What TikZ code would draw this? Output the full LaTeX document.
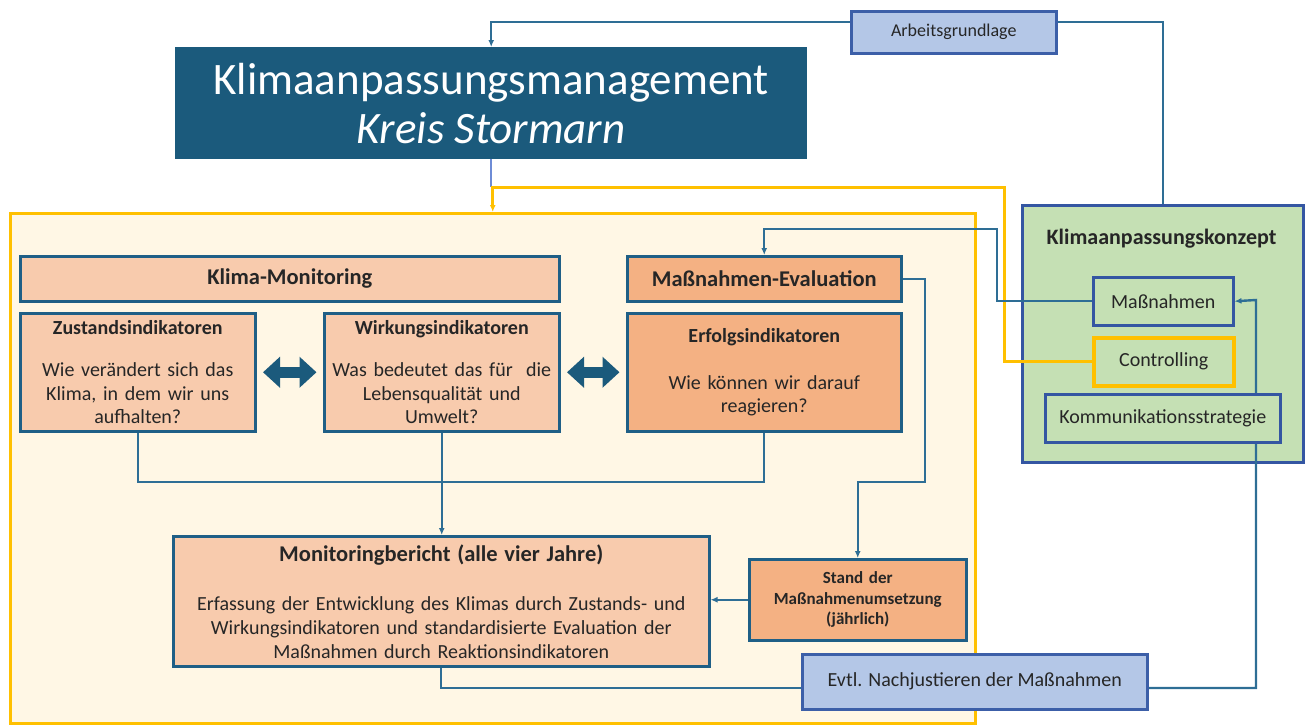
\documentclass[tikz,border=0pt]{standalone}
\usepackage{fontspec}
\setmainfont{Carlito}
\usetikzlibrary{arrows.meta,calc}
\definecolor{titleblue}{HTML}{1B5A7C}
\definecolor{orangeL}{HTML}{F8CBAD}
\definecolor{orangeD}{HTML}{F4B183}
\definecolor{boxborder}{HTML}{1F5F86}
\definecolor{lineblue}{HTML}{2E6E95}
\definecolor{contfill}{HTML}{FFF7E5}
\definecolor{yel}{HTML}{FFC000}
\definecolor{greenF}{HTML}{C5E0B4}
\definecolor{greenB}{HTML}{3456A2}
\definecolor{lightblue}{HTML}{B4C7E7}
\definecolor{lbborder}{HTML}{3C5FA8}
\definecolor{titleline}{HTML}{6E8CD6}
\definecolor{txt}{HTML}{262626}
\pgfdeclarelayer{bg}\pgfdeclarelayer{lines}\pgfsetlayers{bg,lines,main}
\begin{document}
\begin{tikzpicture}[x=1pt,y=-1pt,
  box/.style={draw=boxborder, line width=2.5pt, inner xsep=5pt, inner ysep=0pt, align=center, text=txt, anchor=north west,
    font=\fontsize{20}{23.5}\selectfont},
  lbox/.style={draw=lbborder, line width=2.5pt, fill=lightblue, inner xsep=5pt, inner ysep=0pt, align=center, text=txt, anchor=north west},
  gbox/.style={draw=greenB, line width=2.5pt, fill=greenF, inner xsep=5pt, inner ysep=0pt, align=center, text=txt, anchor=north west,
    font=\fontsize{20}{24}\selectfont},
  conn/.style={draw=lineblue, line width=2.4pt},
  tip/.style={-{Latex[length=7pt,width=6pt]}},
  dblarrow/.style={line width=11pt, draw=titleblue, {Triangle[length=17pt,width=30pt]}-{Triangle[length=17pt,width=30pt]}},
  head/.style={font=\fontsize{22.5}{26}\selectfont\bfseries}
]
\useasboundingbox (0,0) rectangle (1305,726);

% background containers
\begin{pgfonlayer}{bg}
\node[draw=yel, line width=2.5pt, fill=contfill, anchor=north west, minimum width=965pt, minimum height=510pt, inner sep=0pt] (cont) at (9,212) {};
\node[gbox, minimum width=281pt, minimum height=257pt] (kz) at (1021,204) {};
\end{pgfonlayer}

% title
\node[fill=titleblue, anchor=north west, minimum width=632pt, minimum height=112pt, inner sep=0pt, align=center, text=white,
  font=\fontsize{45}{49}\selectfont] (title) at (175,47) {Klimaanpassungsmanagement\\\itshape Kreis Stormarn};

\node[lbox, minimum width=205pt, minimum height=42pt, font=\fontsize{18}{22}\selectfont] (arb) at (850,10) {Arbeitsgrundlage};

% monitoring part
\node[box, fill=orangeL, minimum width=539pt, minimum height=45pt, head] (km) at (19,255) {Klima-Monitoring};
\node[box, fill=orangeD, minimum width=274pt, minimum height=45pt, head] (me) at (626,255) {Maßnahmen-Evaluation};

\node[box, fill=orangeL, minimum width=235pt, minimum height=118pt, text width=225pt] (zu) at (19,312)
  {\textbf{Zustandsindikatoren}\\[19pt]Wie verändert sich das\\Klima, in dem wir uns\\aufhalten?};
\node[box, fill=orangeL, minimum width=235pt, minimum height=118pt, text width=225pt] (wi) at (323,312)
  {\textbf{Wirkungsindikatoren}\\[19pt]Was bedeutet das für~ die\\Lebensqualität und\\Umwelt?};
\node[box, fill=orangeD, minimum width=274pt, minimum height=118pt, text width=264pt] (er) at (626,312)
  {\textbf{Erfolgsindikatoren}\\[23.5pt]Wie können wir darauf\\reagieren?};

\node[box, fill=orangeL, minimum width=536pt, minimum height=130pt, text width=526pt, font=\fontsize{20}{24}\selectfont] (mo) at (172,535)
  {{\fontsize{22.5}{24}\selectfont\bfseries Monitoringbericht (alle vier Jahre)}\\[25pt]Erfassung der Entwicklung des Klimas durch Zustands- und\\Wirkungsindikatoren und standardisierte Evaluation der\\Maßnahmen durch Reaktionsindikatoren};

\node[box, fill=orangeD, minimum width=217pt, minimum height=81pt, text width=207pt, font=\fontsize{17}{20.5}\selectfont\bfseries] (st) at (748,558)
  {Stand der\\Maßnahmenumsetzung\\(jährlich)};

\node[lbox, minimum width=345pt, minimum height=55pt, font=\fontsize{20}{24}\selectfont] (ev) at (801,653) {Evtl. Nachjustieren der Maßnahmen};

% Konzept
\node[text=txt, font=\fontsize{22}{26}\selectfont\bfseries, inner sep=0pt] (kzt) at (1161.5,239) {Klimaanpassungskonzept};
\node[gbox, minimum width=140pt, minimum height=48pt] (ma) at (1092,276) {Maßnahmen};
\node[gbox, draw=yel, line width=3.5pt, minimum width=140pt, minimum height=48pt] (ct) at (1092,336) {Controlling};
\node[gbox, minimum width=235pt, minimum height=48pt] (ko) at (1044,393) {Kommunikationsstrategie};

% double arrows
\draw[dblarrow] ([xshift=6.5pt]zu.east) -- ([xshift=-6.5pt]wi.west);
\draw[dblarrow] ([xshift=6.5pt]wi.east) -- ([xshift=-6.5pt]er.west);

% connectors
\begin{pgfonlayer}{lines}
\coordinate (j) at (491.5,187);
\draw[conn, tip] (arb.west |- 0,22) -| (title.north);
\draw[conn] (arb.east |- 0,22) -| (kz.north);
\draw[draw=titleline, line width=2.4pt] (title.south) -- (title.south |- j);
\draw[draw=yel, line width=3pt, tip] (ct.west) -| (1004,187) -| (cont.north);
\draw[conn] (zu.south) -- (zu.south |- 0,482) -- (er.south |- 0,482) -- (er.south);
\draw[conn, tip] (wi.south) -- (wi.south |- mo.north);
\draw[conn, tip] (me.east) -| (925,482) -| (st.north);
\draw[conn, tip] (st.west) -- (mo.east |- st.west);
\draw[conn] (mo.south) |- (ev.west |- 0,688);
\draw[conn, tip] (ev.east |- 0,688) -| (1256,300) -- (ma.east);
\draw[conn, tip] (ma.west) -| (997,229) -| (me.north);
\end{pgfonlayer}
\end{tikzpicture}
\end{document}
